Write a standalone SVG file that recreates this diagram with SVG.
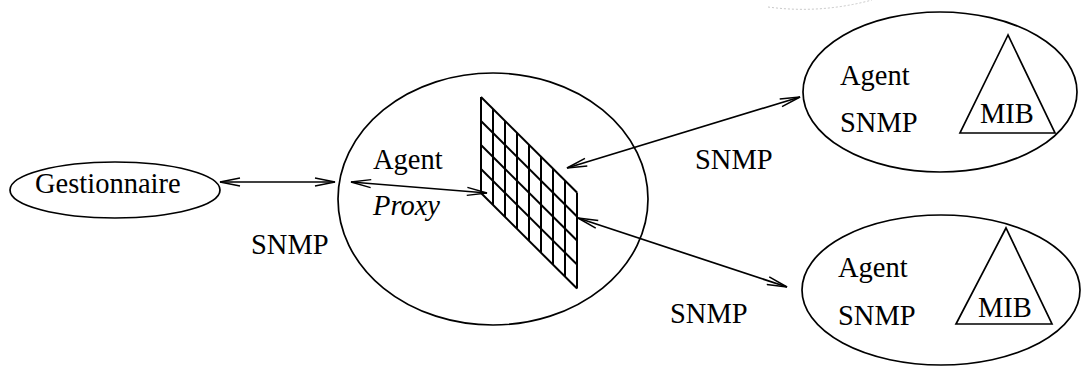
<svg xmlns="http://www.w3.org/2000/svg" width="1082" height="368" viewBox="0 0 1082 368">
  <style>
    .shape { fill: none; stroke: #000; stroke-width: 1.7; }
    .grid line { stroke: #000; stroke-width: 2; vector-effect: non-scaling-stroke; }
    .conn { fill: none; stroke: #000; stroke-width: 1.7; marker-start: url(#ah); marker-end: url(#ah); }
    .t { font-family: "Liberation Serif", "Times New Roman", serif; font-size: 28.5px; fill: #000; }
    .it { font-style: italic; }
  </style>
  <defs>
    <marker id="ah" viewBox="0 0 22 10" markerUnits="userSpaceOnUse" markerWidth="22" markerHeight="10" refX="21" refY="5" orient="auto-start-reverse">
      <path d="M1,1 L21,5 L1,9" fill="none" stroke="#000" stroke-width="1.5"/>
    </marker>
  </defs>
  <rect width="1082" height="368" fill="#fff"/>

  <path d="M768,7 Q820,14 872,0" fill="none" stroke="#c8c8c8" stroke-width="1" stroke-dasharray="2 2"/>

  <g id="gestionnaire">
    <ellipse class="shape" cx="115" cy="190" rx="105" ry="28"/>
    <text class="t" x="35" y="193">Gestionnaire</text>
  </g>

  <g id="proxy">
    <ellipse class="shape" cx="493" cy="199" rx="155" ry="126"/>
    <text class="t" x="373" y="169">Agent</text>
    <text class="t it" x="373" y="215">Proxy</text>
    <g class="grid" transform="translate(481,97) matrix(1,0.995,0,1,0,0)">
      <line x1="0" y1="0" x2="0" y2="96"/>
      <line x1="12" y1="0" x2="12" y2="96"/>
      <line x1="24" y1="0" x2="24" y2="96"/>
      <line x1="36" y1="0" x2="36" y2="96"/>
      <line x1="48" y1="0" x2="48" y2="96"/>
      <line x1="60" y1="0" x2="60" y2="96"/>
      <line x1="72" y1="0" x2="72" y2="96"/>
      <line x1="84" y1="0" x2="84" y2="96"/>
      <line x1="96" y1="0" x2="96" y2="96"/>
      <line x1="0" y1="0" x2="96" y2="0"/>
      <line x1="0" y1="24" x2="96" y2="24"/>
      <line x1="0" y1="48" x2="96" y2="48"/>
      <line x1="0" y1="72" x2="96" y2="72"/>
      <line x1="0" y1="96" x2="96" y2="96"/>
    </g>
  </g>

  <g id="agent1">
    <ellipse class="shape" cx="940" cy="92" rx="137" ry="80"/>
    <text class="t" x="840" y="85">Agent</text>
    <text class="t" x="840" y="132">SNMP</text>
    <polygon class="shape" points="1008,35 960,133 1055,133"/>
    <text class="t" x="980" y="123">MIB</text>
  </g>

  <g id="agent2">
    <ellipse class="shape" cx="941" cy="290" rx="139" ry="75"/>
    <text class="t" x="838" y="277">Agent</text>
    <text class="t" x="838" y="325">SNMP</text>
    <polygon class="shape" points="1006,228 956,324 1052,324"/>
    <text class="t" x="978" y="317">MIB</text>
  </g>

  <g id="connectors">
    <line class="conn" x1="220" y1="182" x2="335" y2="182"/>
    <line class="conn" x1="351" y1="182" x2="487" y2="193"/>
    <line class="conn" x1="567" y1="168" x2="800" y2="97"/>
    <line class="conn" x1="578" y1="218" x2="787" y2="287"/>
    <text class="t" x="251" y="254">SNMP</text>
    <text class="t" x="695" y="169">SNMP</text>
    <text class="t" x="670" y="323">SNMP</text>
  </g>
</svg>
